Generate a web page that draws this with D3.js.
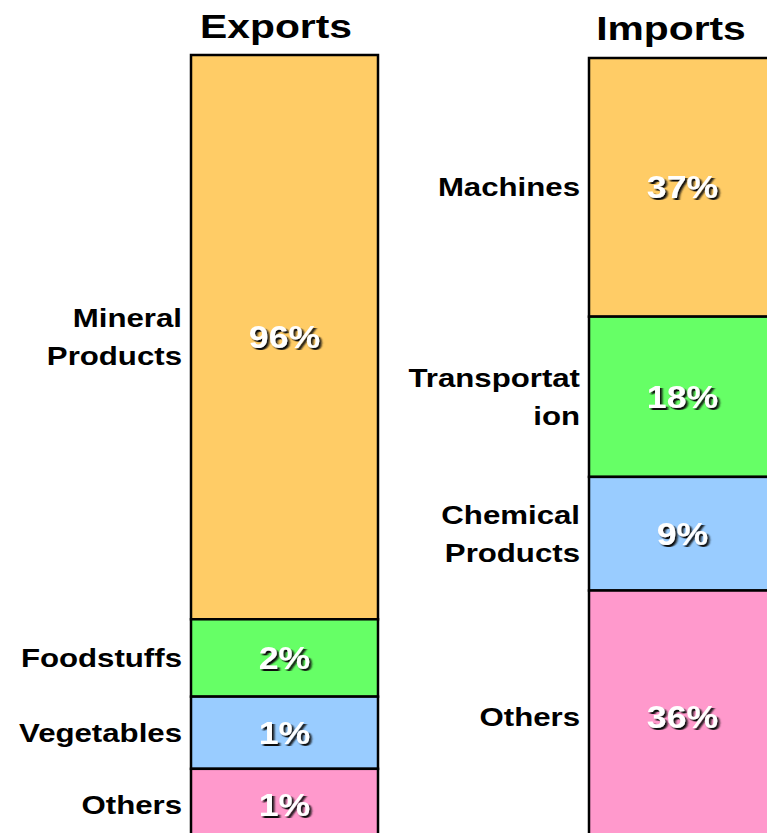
<!DOCTYPE html>
<html>
<head>
<meta charset="utf-8">
<script src="https://cdn.jsdelivr.net/npm/d3@7"></script>
<style>
  body { margin: 0; background: #fff; }
  svg { display: block; font-family: "Liberation Sans", Arial, sans-serif; font-weight: bold; }
</style>
</head>
<body>
<div id="chart"></div>
<script>
// data
const exportCategories = ["Mineral\nProducts", "Foodstuffs", "Vegetables", "Others"];
const exportValues = [96, 2, 1, 1];
const importCategories = ["Machines", "Transportat\nion", "Chemical\nProducts", "Others"];
const importValues = [37, 18, 9, 36];
const segmentColors = ["#FFCC66", "#66FF66", "#99CCFF", "#FF99CC"];

const width = 767, height = 833;
const stretch = 1.2; // text in the picture is stretched horizontally

const svg = d3.select("#chart").append("svg")
  .attr("width", width)
  .attr("height", height);

// drop shadow for the percentage text
const filter = svg.append("defs").append("filter")
  .attr("id", "shadow")
  .attr("x", "-20%").attr("y", "-20%")
  .attr("width", "150%").attr("height", "150%");
filter.append("feDropShadow")
  .attr("dx", 2).attr("dy", 2)
  .attr("stdDeviation", 0.7)
  .attr("flood-color", "#111")
  .attr("flood-opacity", 1);

// each segment gets a minimum height plus a part proportional to its value
const minHeight = 67;
const h = d3.scaleLinear().domain([0, 100]).range([0, 518]);

const bars = [
  { title: "Exports", cats: exportCategories, values: exportValues, x: 191, top: 55, titleX: 276, titleY: 38 },
  { title: "Imports", cats: importCategories, values: importValues, x: 589, top: 58, titleX: 671, titleY: 40 }
];
const barWidth = 187;

bars.forEach((bar) => {
  // stack segments
  let y = bar.top;
  const segs = bar.values.map((v, i) => {
    const hh = minHeight + h(v);
    const s = { value: v, cat: bar.cats[i], y0: y, h: hh, color: segmentColors[i] };
    y += hh;
    return s;
  });

  const g = svg.append("g");

  g.selectAll("rect")
    .data(segs)
    .enter()
    .append("rect")
    .attr("x", bar.x)
    .attr("y", (d) => d.y0)
    .attr("width", barWidth)
    .attr("height", (d) => d.h)
    .attr("fill", (d) => d.color)
    .attr("stroke", "#000")
    .attr("stroke-width", 2.5);

  // percentages
  g.selectAll(".pct")
    .data(segs)
    .enter()
    .append("text")
    .attr("class", "pct")
    .attr("transform", (d) => `translate(${bar.x + barWidth / 2}, ${d.y0 + d.h / 2 + 11}) scale(1.15,1)`)
    .attr("text-anchor", "middle")
    .attr("font-size", 31)
    .attr("fill", "#fff")
    .attr("filter", "url(#shadow)")
    .text((d) => d.value + "%");

  // category labels, right aligned next to the bar
  segs.forEach((d) => {
    const lines = d.cat.split("\n");
    const cy = d.y0 + d.h / 2;
    lines.forEach((line, j) => {
      g.append("text")
        .attr("transform", `translate(${bar.x - 9}, ${cy + (j - (lines.length - 1) / 2) * 38 + 9}) scale(${stretch},1)`)
        .attr("text-anchor", "end")
        .attr("font-size", 26)
        .attr("fill", "#000")
        .text(line);
    });
  });

  // title
  svg.append("text")
    .attr("transform", `translate(${bar.titleX}, ${bar.titleY}) scale(1.2,1)`)
    .attr("text-anchor", "middle")
    .attr("font-size", 34)
    .attr("fill", "#000")
    .text(bar.title);
});
</script>
</body>
</html>
